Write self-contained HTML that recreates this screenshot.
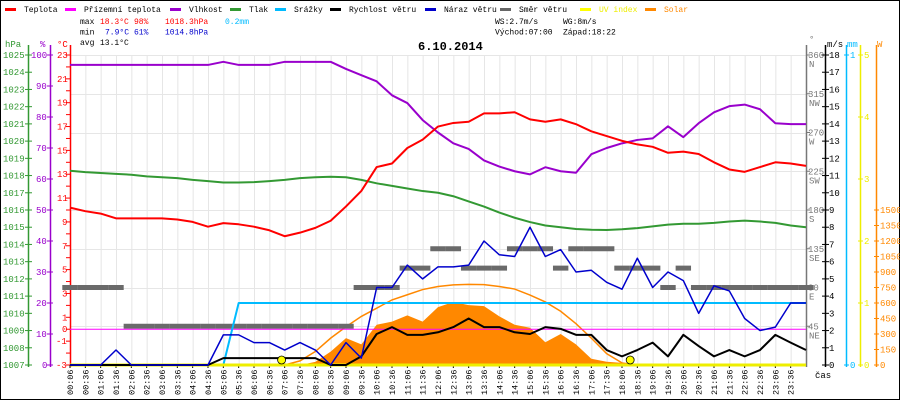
<!DOCTYPE html>
<html><head><meta charset="utf-8">
<style>
html,body{margin:0;padding:0;background:#fff}
svg{display:block;font-family:"Liberation Mono",monospace;font-size:8px}
</style></head>
<body>
<svg id="c" width="900" height="400" viewBox="0 0 900 400"></svg>
<script>
// ---- data (half-hour samples, 00:06 .. 24:06) ----
const timeLabels=["00:06","00:36","01:06","01:36","02:06","02:36","03:06","03:36","04:06","04:36","05:06","05:36","06:06","06:36","07:06","07:36","08:06","08:36","09:06","09:36","10:06","10:36","11:06","11:36","12:06","12:36","13:06","13:36","14:06","14:36","15:06","15:36","16:06","16:36","17:06","17:36","18:06","18:36","19:06","19:36","20:06","20:36","21:06","21:36","22:06","22:36","23:06","23:36"];
const temperature=[10.2,9.9,9.7,9.3,9.3,9.3,9.3,9.2,9.0,8.6,8.9,8.8,8.6,8.3,7.8,8.1,8.5,9.1,10.3,11.6,13.6,13.9,15.2,15.9,17.0,17.3,17.4,18.1,18.1,18.2,17.6,17.4,17.6,17.2,16.6,16.2,15.8,15.5,15.3,14.8,14.9,14.7,14.0,13.4,13.2,13.6,14.0,13.9,13.7];
const feelsLike=[0,0,0,0,0,0,0,0,0,0,0,0,0,0,0,0,0,0,0,0,0,0,0,0,0,0,0,0,0,0,0,0,0,0,0,0,0,0,0,0,0,0,0,0,0,0,0,0,0];
const humidity=[96.8,96.8,96.8,96.8,96.8,96.8,96.8,96.8,96.8,96.8,97.8,96.8,96.8,96.8,97.8,97.8,97.8,97.8,95.5,93.5,91.5,87,84.5,79,75,71.5,69.7,66,64,62.5,61.5,63.8,62.5,62,68,70,71.5,72.6,73.1,77,73.5,78,81.5,83.5,84,82.5,78,77.7,77.7];
const pressure=[1018.28,1018.2,1018.15,1018.1,1018.05,1017.95,1017.9,1017.85,1017.75,1017.68,1017.6,1017.6,1017.62,1017.68,1017.75,1017.85,1017.9,1017.93,1017.9,1017.75,1017.55,1017.4,1017.25,1017.1,1017.0,1016.8,1016.5,1016.2,1015.85,1015.55,1015.3,1015.1,1015.0,1014.9,1014.85,1014.84,1014.88,1014.95,1015.05,1015.15,1015.2,1015.2,1015.25,1015.33,1015.38,1015.33,1015.25,1015.1,1015.0];
const rain=[0,0,0,0,0,0,0,0,0,0,0,0.2,0.2,0.2,0.2,0.2,0.2,0.2,0.2,0.2,0.2,0.2,0.2,0.2,0.2,0.2,0.2,0.2,0.2,0.2,0.2,0.2,0.2,0.2,0.2,0.2,0.2,0.2,0.2,0.2,0.2,0.2,0.2,0.2,0.2,0.2,0.2,0.2,0.2];
const windSpeed=[0,0,0,0,0,0,0,0,0,0,0.4,0.4,0.4,0.4,0.4,0.4,0.4,0,0,0.5,1.8,2.2,1.75,1.75,1.9,2.2,2.7,2.2,2.2,1.9,1.8,2.2,2.1,1.75,1.75,0.87,0.5,0.87,1.3,0.5,1.75,1.1,0.5,0.87,0.5,0.87,1.75,1.3,0.87];
const windGust=[0,0,0,0.87,0,0,0,0,0,0,1.75,1.75,1.3,1.3,0.87,1.3,0.87,0,1.3,0.4,4.5,4.5,5.8,5.0,5.7,5.7,5.8,7.2,6.4,6.3,8.0,6.3,6.7,5.4,5.5,4.8,4.4,6.2,4.5,5.4,4.9,3.0,4.6,4.3,2.7,2.0,2.2,3.6,3.6];
const windDir=[90,90,90,90,45,45,45,45,45,45,45,45,45,45,45,45,45,45,45,90,90,90,112.5,112.5,135,135,112.5,112.5,112.5,135,135,135,112.5,135,135,135,112.5,112.5,112.5,90,112.5,90,90,90,90,90,90,90,90];
const solar=[0,0,0,0,0,0,0,0,0,0,0,0,0,0,0,0,30,130,260,200,390,420,480,420,560,610,580,570,470,390,360,220,300,200,60,32,20,0,0,0,0,0,0,0,0,0,0,0,0];
const solarClear=[0,0,0,0,0,0,0,0,0,0,0,0,0,0,0,40,130,260,370,470,550,630,680,730,760,775,780,778,760,735,677,610,520,400,260,110,20,0,0,0,0,0,0,0,0,0,0,0,0];
const uvIndex=[0,0,0,0,0,0,0,0,0,0,0,0,0,0,0,0,0,0,0,0,0,0,0,0,0,0,0,0,0,0,0,0,0,0,0,0,0,0,0,0,0,0,0,0,0,0,0,0,0];
const sunEvents=[7.0,18.3667];

const svg=document.getElementById('c');
const NS='http://www.w3.org/2000/svg';
const X0=70,X1=806,YT=55,YB=365;
function el(t,a,p){const e=document.createElementNS(NS,t);for(const k in a)e.setAttribute(k,a[k]);(p||svg).appendChild(e);return e;}
function txt(s,x,y,fill,extra,p){const e=el('text',Object.assign({x:x,y:y,fill:fill||'#000'},extra||{}),p);e.textContent=s;return e;}
const xI=i=>X0+i*(X1-X0)/48;
const xH=h=>X0+(h*60-6)*(X1-X0)/1440;
const yT=v=>YB-(v+3)*(YB-YT)/26;
const yH=v=>YB-v*(YB-YT)/100;
const yP=v=>YB-(v-1007)*(YB-YT)/18;
const yW=v=>YB-v*(YB-YT)/18;
const yD=v=>YB-v*(YB-YT)/360;
const yR=v=>YB-v*(YB-YT)/1;
const yS=v=>YB-v*155/1500;
const yU=v=>YB-v*(YB-YT)/5;
const AX={'font-size':'9px'};

let b=el('rect',{x:0.5,y:0.5,width:899,height:399,fill:'#fff',stroke:'#000'});


const grid=el('g',{stroke:'#e6e6e6','stroke-width':1});

for(let i=0;i<48;i++)el('line',{x1:xI(i)+0.5,x2:xI(i)+0.5,y1:YT,y2:YB},grid);
for(let k=1;k<=8;k++)el('line',{x1:X0,x2:X1,y1:Math.round(yD(k*45))+0.5,y2:Math.round(yD(k*45))+0.5},grid);

// legend
const leg=[["Teplota","#f00",5,"#000"],["Přízemní teplota","#f0f",65,"#000"],["Vlhkost","#90c",170,"#000"],["Tlak","#393",230,"#000"],["Srážky","#0bf",275,"#000"],["Rychlost větru","#000",330,"#000"],["Náraz větru","#00c",425,"#000"],["Směr větru","#666",500,"#000"],["UV index","#ff0",580,"#ee0"],["Solar","#f80",645,"#f80"]];
leg.forEach(l=>{const g=el('g',{});
el('rect',{x:l[2],y:8,width:11,height:3,fill:l[1]},g);txt(l[0],l[2]+19,12,l[3],{},g);});
const st=el('g',{});
[[["max",80,"#000"],["18.3°C",100,"#f00"],["98%",134,"#f00"],["1018.3hPa",165,"#f00"],["0.2mm",225,"#0bf"]],
 [["min",80,"#000"],["7.9°C",105,"#00c"],["61%",134,"#00c"],["1014.8hPa",165,"#00c"]],
 [["avg",80,"#000"],["13.1°C",100,"#000"]]].forEach((r,j)=>r.forEach(c=>txt(c[0],c[1],24+j*10.5,c[2],{},st)));
[["WS:2.7m/s",495,24],["WG:8m/s",563,24],["Východ:07:00",495,34.5],["Západ:18:22",563,34.5]].forEach(c=>txt(c[0],c[1],c[2],'#000',{},st));
let tt=txt("6.10.2014",418,50,'#000',{'font-weight':'bold','font-size':'12px'});


function axis(name,x,color,hdr,hx){const g=el('g',{});
el('line',{x1:x+0.5,x2:x+0.5,y1:YT-10,y2:YB+2,stroke:color,'stroke-width':1.5},g);txt(hdr,hx,47,color,AX,g);return g;}
let ga=axis('pressure-axis',28,'#393','hPa',5);
for(let v=1007;v<=1025;v++){const y=yP(v);el('line',{x1:25,x2:32,y1:y,y2:y,stroke:'#393'},ga);txt(String(v),3,y+3,'#393',AX,ga);}
let gh=axis('humidity-axis',50,'#90c','%',40);
for(let v=0;v<=100;v+=10){const y=yH(v);el('line',{x1:47,x2:53,y1:y,y2:y,stroke:'#90c'},gh);txt(String(v),v==100?31:v==0?42:36,y+3,'#90c',AX,gh);}
let gt=axis('temperature-axis',70,'#f00','°C',57);
const tLabs=[23,21,19,17,15,13,11,9,7,5,3,1,0,-1,-3];
for(let v=-3;v<=23;v++){const y=yT(v);el('line',{x1:66,x2:70,y1:y,y2:y,stroke:'#f00'},gt);}
tLabs.forEach(v=>{const y=yT(v);txt(String(v),v<0?56:v<10?62:57,y+3,'#f00',AX,gt);});

let gd=el('g',{});
el('line',{x1:806.5,x2:806.5,y1:YT-10,y2:YB+2,stroke:'#777','stroke-width':1.5},gd);txt('°',809,42,'#777',AX,gd);
[[360,"N"],[315,"NW"],[270,"W"],[225,"SW"],[180,"S"],[135,"SE"],[90,"E"],[45,"NE"]].forEach(d=>{const y=yD(d[0]);el('line',{x1:806,x2:810,y1:y,y2:y,stroke:'#777'},gd);txt(String(d[0]),808,y+3,'#777',AX,gd);txt(d[1],809,y+12,'#777',AX,gd);});
let gw=el('g',{});
el('line',{x1:825.5,x2:825.5,y1:YT-10,y2:YB+2,stroke:'#000','stroke-width':1.5},gw);txt('m/s',827,47,'#000',AX,gw);
for(let v=0;v<=18;v++){const y=yW(v);el('line',{x1:822,x2:829,y1:y,y2:y,stroke:'#000'},gw);txt(String(v),829,y+3,'#000',AX,gw);}
let gm=el('g',{});
el('line',{x1:846.5,x2:846.5,y1:YT-10,y2:YB+2,stroke:'#0bf','stroke-width':1.5},gm);txt('mm',847,47,'#0bf',AX,gm);
[[1,YT],[0,YB]].forEach(m=>{el('line',{x1:844,x2:849,y1:m[1],y2:m[1],stroke:'#0bf'},gm);txt(String(m[0]),850,m[1]+3,'#0bf',AX,gm);});
let gu=el('g',{});
el('line',{x1:860.5,x2:860.5,y1:YT-10,y2:YB+2,stroke:'#ee0','stroke-width':1.5},gu);
for(let v=0;v<=5;v++){const y=yU(v);el('line',{x1:858,x2:863,y1:y,y2:y,stroke:'#ee0'},gu);txt(String(v),864,y+3,'#ee0',AX,gu);}
let gs=el('g',{});
el('line',{x1:876.5,x2:876.5,y1:YT-10,y2:YB+2,stroke:'#f80','stroke-width':1.5},gs);txt('W',877,47,'#f80',AX,gs);
for(let v=0;v<=1500;v+=150){const y=yS(v);el('line',{x1:874,x2:879,y1:y,y2:y,stroke:'#f80'},gs);txt(String(v),880,y+3,'#f80',AX,gs);}

const gx=el('g',{});
timeLabels.forEach((s,i)=>{const x=xI(i)+3;el('line',{x1:xI(i),x2:xI(i),y1:YB,y2:YB+3,stroke:'#000'},gx);txt(s,x,395,'#000',{transform:`rotate(-90 ${x} 395)`,'font-size':'8.5px'},gx);});
let cas=txt('čas',815,378,'#000',AX);

function pts(arr,fy){return arr.map((v,i)=>xI(i)+','+fy(v)).join(' ');}
let sol=el('polygon',{points:X0+','+YB+' '+pts(solar,yS)+' '+X1+','+YB,fill:'#f80'});

let slc=el('polyline',{points:pts(solarClear,yS),fill:'none',stroke:'#f80','stroke-width':1.5});

const gdir=el('g',{fill:'#6a6a6a'});
windDir.forEach((v,i)=>{if(v==null)return;const r=el('rect',{x:xI(i)-7.7,y:yD(v)-2.5,width:15.4,height:5},gdir);

});
function line(arr,fy,color,w,name){const p=el('polyline',{points:pts(arr,fy),fill:'none',stroke:color,'stroke-width':w,'stroke-linejoin':'round'});

}
line(feelsLike,yT,'#f0f',1,'feels-like-line');
line(rain,yR,'#0bf',2,'rain-line');
line(uvIndex,yU,'#ee0',3,'uv-line');
line(windSpeed,yW,'#000',2,'wind-speed-line');
line(windGust,yW,'#00c',1.5,'wind-gust-line');
line(pressure,yP,'#393',2,'pressure-line');
line(humidity,yH,'#90c',2,'humidity-line');
line(temperature,yT,'#f00',2,'temperature-line');
sunEvents.forEach(h=>{const c=el('circle',{cx:xH(h),cy:YB-5,r:4,fill:'#ff0',stroke:'#000','stroke-width':0.8});

});
</script>
</body></html>
